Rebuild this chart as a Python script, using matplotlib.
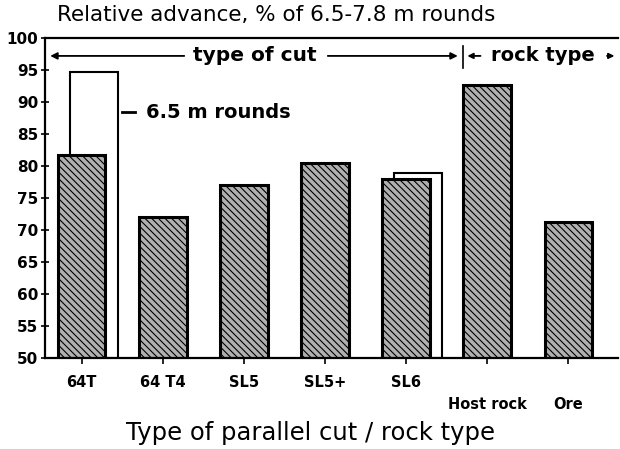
import numpy as np
import matplotlib
matplotlib.use('Agg')
from matplotlib import pyplot as plt

plt.rcParams['font.family'] = ['DejaVu Sans']
plt.rcParams['hatch.linewidth'] = 0.8
plt.rcParams['hatch.color'] = '#222222'

cuts = ['64T', '64 T4', 'SL5', 'SL5+', 'SL6', 'Host rock', 'Ore']
advance = [81.7, 72.0, 77.0, 80.5, 77.9, 92.7, 71.2]
# 6.5 m rounds shown only for 64T and SL6
short_idx = [0, 4]
short_adv = [94.7, 78.9]

fig = plt.figure(figsize=(6.2, 4.49), dpi=100)
ax = fig.add_axes([45/620, 91/449, 573/620, 320/449])

x = np.arange(len(cuts))
w = 0.59
ax.bar(np.array(short_idx) + 0.15, np.array(short_adv) - 50, bottom=50, width=w,
       facecolor='white', edgecolor='black', linewidth=1.5, zorder=1)
ax.bar(x, np.array(advance) - 50, bottom=50, width=w, facecolor='#b0b0b0',
       edgecolor='black', linewidth=2.2, hatch='\\\\\\\\\\', zorder=2)

ax.set_ylim(50, 100)
ax.set_xlim(-0.45, 6.61)
ax.set_yticks(np.arange(50, 101, 5))
ax.tick_params(axis='y', direction='inout', length=6, width=1.2, labelsize=11, pad=2)
ax.tick_params(axis='x', direction='inout', length=8, width=1.2, labelsize=10.5, pad=8)
ax.set_xticks(x)
ax.set_xticklabels(cuts, fontweight='bold')
for lab in ax.get_xticklabels()[5:]:
    lab.set_y(-0.069)
for lab in ax.get_yticklabels():
    lab.set_fontweight('bold')

ax.spines['right'].set_visible(False)
for s in ['left', 'bottom', 'top']:
    ax.spines[s].set_linewidth(1.6)

ax.set_xlabel('Type of parallel cut / rock type', fontsize=17.5, va='center')
ax.xaxis.set_label_coords((310 - 45) / 573, -0.235)

fig.text(57/620, 1 - 15/449, 'Relative advance, % of 6.5-7.8 m rounds',
         fontsize=15.5, va='center', ha='left')

# group markers along top
ty = 97.2
ax.text(2.14, ty, 'type of cut', fontsize=14.5, fontweight='bold', ha='center', va='center')
ax.annotate('', xy=(-0.42, ty), xytext=(1.3, ty),
            arrowprops=dict(arrowstyle='-|>', color='black', lw=1.3, mutation_scale=10))
ax.annotate('', xy=(4.67, ty), xytext=(3.0, ty),
            arrowprops=dict(arrowstyle='-|>', color='black', lw=1.3, mutation_scale=10))
ax.plot([4.7, 4.7], [95.3, 98.8], color='black', lw=1.2)
ax.annotate('', xy=(4.72, ty), xytext=(4.95, ty),
            arrowprops=dict(arrowstyle='-|>', color='black', lw=1.3, mutation_scale=8))
ax.text(5.68, ty, 'rock type', fontsize=14, fontweight='bold', ha='center', va='center')
ax.annotate('', xy=(6.6, ty), xytext=(6.44, ty),
            arrowprops=dict(arrowstyle='-|>', color='black', lw=1.3, mutation_scale=8))

ax.plot([0.5, 0.66], [88.4, 88.4], color='black', lw=2)
ax.text(0.79, 88.4, '6.5 m rounds', fontsize=14, fontweight='bold', va='center')

fig.savefig('out.png', dpi=100)
